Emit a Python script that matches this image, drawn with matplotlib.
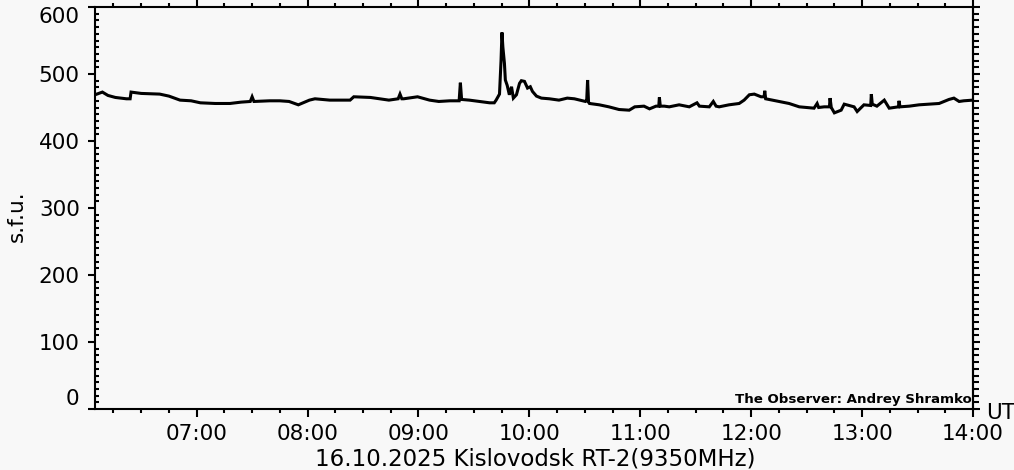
"""Kislovodsk RT-2 9350 MHz flux, 16.10.2025 (IDL-style daily plot)."""

import matplotlib

matplotlib.use("Agg")
import matplotlib.dates as mdates
import matplotlib.pyplot as plt
import pandas as pd
from matplotlib.ticker import MultipleLocator

day = "2025-10-16"

# UT times and flux (s.f.u.)
ut_time = [
    "06:05", "06:09", "06:12", "06:16", "06:22", "06:24:00", "06:24:30", "06:30",
    "06:40", "06:45", "06:51", "06:57", "07:02", "07:10", "07:18", "07:24",
    "07:29", "07:30", "07:31", "07:39:30", "07:45", "07:50", "07:55", "08:01",
    "08:04", "08:12", "08:23", "08:25", "08:34", "08:44", "08:49", "08:50",
    "08:51", "08:52", "08:59:30", "09:06", "09:11", "09:17", "09:22", "09:22:40",
    "09:23:20", "09:27:30", "09:33", "09:38:30", "09:41", "09:42", "09:43:50",
    "09:44:40", "09:45:10", "09:45:40", "09:46:30", "09:47", "09:48", "09:49:10",
    "09:50:20", "09:51:20", "09:53", "09:54:40", "09:55:40", "09:57:20", "09:59",
    "10:00:30", "10:01:40", "10:03:50", "10:06:30", "10:10:50", "10:16",
    "10:20:30", "10:24:20", "10:30:20", "10:31:00", "10:31:30", "10:32:00",
    "10:32:30", "10:37:50", "10:43", "10:48:30", "10:54", "10:57", "11:02",
    "11:05", "11:08:30", "11:10:00", "11:10:20", "11:10:50", "11:13", "11:15:40",
    "11:21", "11:26:30", "11:30:40", "11:32", "11:37:20", "11:39:30", "11:41",
    "11:42:40", "11:48", "11:53:30", "11:56:10", "11:59", "12:01:40", "12:05:20",
    "12:07:00", "12:07:20", "12:07:50", "12:09:40", "12:15", "12:20:30", "12:26",
    "12:34", "12:35:40", "12:36:30", "12:39:30", "12:42:20", "12:42:40",
    "12:43:20", "12:45", "12:48:40", "12:50:20", "12:55:40", "12:57:20", "13:01",
    "13:04:40", "13:05:00", "13:05:30", "13:08", "13:12", "13:14:40", "13:19:40",
    "13:20:00", "13:20:30", "13:25:30", "13:30:50", "13:36", "13:41:40", "13:47",
    "13:49:40", "13:52:30", "13:55", "13:59:30", "14:00",
]
sfu = [
    469, 473, 468, 465, 463, 463, 473, 471,
    470, 467, 461, 460, 457, 456, 456, 458,
    459, 466, 459, 460, 460, 459, 454, 461,
    463, 461, 461, 466, 465, 461, 463, 470,
    463, 463, 466, 461, 459, 460, 460, 487,
    462, 461, 459, 457, 457, 461, 470,
    520, 562, 540, 516, 491, 483, 469,
    481, 464, 469, 486, 490, 489, 479,
    481, 474, 467, 464, 463, 461,
    464, 463, 459, 460, 491, 458,
    456, 454, 451, 447, 446, 451, 452,
    448, 452, 452, 465, 452, 452, 451,
    454, 451, 457, 452, 451, 459, 452,
    451, 454, 456, 461, 469, 470, 466,
    466, 475, 463, 462, 459, 456, 451,
    449, 456, 450, 451, 451, 464,
    450, 442, 446, 455, 451, 444, 454,
    453, 470, 455, 452, 461, 449, 451,
    460, 451, 452, 454, 455, 456, 462,
    464, 459, 460, 461, 461,
]

t = pd.to_datetime([f"{day} {s}" for s in ut_time], format="mixed")
x_start = pd.Timestamp(f"{day} 06:05")
x_end = pd.Timestamp(f"{day} 14:00")

bg = "#f8f8f8"
fs = 15.5
fig = plt.figure(figsize=(10.14, 4.70), dpi=100, facecolor=bg)
ax = fig.add_axes([95 / 1014, 61 / 470, 878 / 1014, 402 / 470], facecolor=bg)

ax.plot(t, sfu, color="black", lw=2.2, solid_joinstyle="miter")

ax.set_xlim(x_start, x_end)
ax.set_ylim(0, 600)

for s in ax.spines.values():
    s.set_linewidth(1.5)

ax.xaxis.set_major_locator(mdates.HourLocator())
ax.xaxis.set_minor_locator(mdates.MinuteLocator(byminute=[15, 30, 45]))
ax.xaxis.set_major_formatter(mdates.DateFormatter("%H:%M"))
ax.yaxis.set_major_locator(MultipleLocator(100))
ax.yaxis.set_minor_locator(MultipleLocator(10))

ax.tick_params(axis="x", which="both", direction="out", top=True, width=1.5,
               labelsize=fs, pad=5)
ax.tick_params(axis="x", which="major", length=5.5)
ax.tick_params(axis="x", which="minor", length=3)
ax.tick_params(axis="y", which="both", width=1.5, right=False, labelsize=fs)
ax.tick_params(axis="y", which="major", direction="out", length=5, pad=6)
ax.tick_params(axis="y", which="minor", direction="in", length=3)

# right-hand ticks point outward, unlike the left minor ones
sec = ax.secondary_yaxis("right")
sec.yaxis.set_major_locator(MultipleLocator(100))
sec.yaxis.set_minor_locator(MultipleLocator(10))
sec.tick_params(which="both", direction="out", width=1.5, labelright=False)
sec.tick_params(which="major", length=5)
sec.tick_params(which="minor", length=4)
sec.spines["right"].set_linewidth(1.5)

# IDL keeps the end labels inside the axis range
fig.canvas.draw()
ylabels = ax.get_yticklabels()
for lab in ylabels:
    if lab.get_text() == "600":
        lab.set_va("top")
    elif lab.get_text() == "0":
        lab.set_va("bottom")

ax.set_ylabel("s.f.u.", fontsize=fs)
ax.yaxis.set_label_coords(-0.078, 0.48)

ax.text(0.999, 0.015, "The Observer: Andrey Shramko", transform=ax.transAxes,
        ha="right", va="baseline", fontsize=9.6, fontweight="bold")
fig.text(1001 / 1014, 1 - 413 / 470, "UT", ha="center", va="center", fontsize=fs)
fig.text(535 / 1014, 4 / 470, "16.10.2025 Kislovodsk RT-2(9350MHz)",
         ha="center", va="baseline", fontsize=16.5)

fig.savefig("out.png", dpi=100, facecolor=bg)
